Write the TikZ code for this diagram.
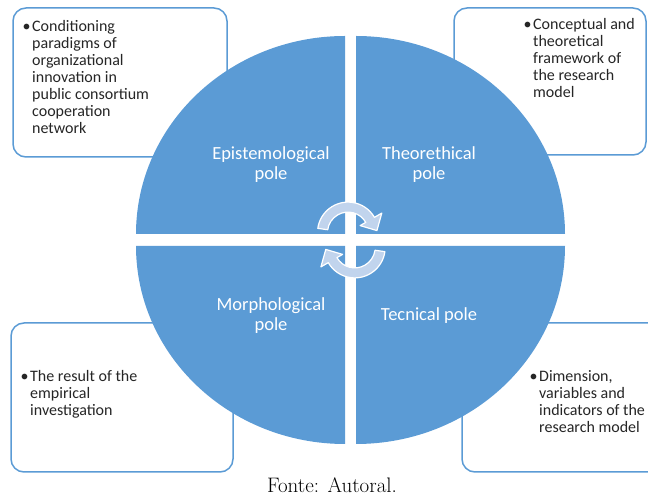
\documentclass[tikz,border=0pt]{standalone}
\usepackage{fontspec}
\newfontfamily\calib{Carlito}
\definecolor{poleblue}{RGB}{91,155,213}
\definecolor{arrowfill}{RGB}{193,212,237}

\begin{document}
\begin{tikzpicture}[x=1pt, y=1pt,
        polebox/.style={draw=poleblue, line width=1.5pt, fill=white, rounded corners=13pt, inner sep=0pt},
        bultext/.style={align=left, inner sep=0pt, anchor=base west, text=black!85, font=\calib\fontsize{16}{17}\selectfont},
        polelabel/.style={align=center, inner sep=0pt, text=white, font=\calib\fontsize{18.5}{20}\selectfont},
        cyclearrow/.style={fill=arrowfill, draw=white, line width=1.2pt, line join=round}]
        \useasboundingbox (0,0) rectangle (648,495);

        \node[polebox, minimum width=214pt, minimum height=149pt] (boxepi) at (120, 412.5) {};
        \node[polebox, minimum width=192pt, minimum height=147pt] (boxteo) at (550, 413.5) {};
        \node[polebox, minimum width=222pt, minimum height=149pt] (boxmor) at (122, 97.5) {};
        \node[polebox, minimum width=200pt, minimum height=149pt] (boxtec) at (562, 97.5) {};

        \fill[poleblue] (345, 261) -- (136, 261) arc[start angle=180, end angle=90, x radius=209, y radius=198] -- cycle;
        \fill[poleblue] (356, 261) -- (356, 459) arc[start angle=90, end angle=0, x radius=209, y radius=198] -- cycle;
        \fill[poleblue] (345, 249) -- (136, 249) arc[start angle=180, end angle=270, x radius=209, y radius=198] -- cycle;
        \fill[poleblue] (356, 249) -- (356, 51) arc[start angle=270, end angle=360, x radius=209, y radius=198] -- cycle;

        \begin{scope}[shift={(348, 262.4)}]
            \filldraw[cyclearrow] (172:30.5) arc[start angle=172, end angle=30, radius=30.5]
                -- (30:39) -- (4:29) -- (30:14) -- (30:20.5)
                arc[start angle=30, end angle=172, radius=20.5] -- cycle;
        \end{scope}
        \begin{scope}[shift={(354.7, 247.6)}, rotate=180]
            \filldraw[cyclearrow] (172:30.5) arc[start angle=172, end angle=30, radius=30.5]
                -- (30:39) -- (4:29) -- (30:14) -- (30:20.5)
                arc[start angle=30, end angle=172, radius=20.5] -- cycle;
        \end{scope}

        \node[polelabel] (epi) at (271, 330) {Epistemological\\pole};
        \node[polelabel] (teo) at (429, 330) {Theorethical\\pole};
        \node[polelabel] (mor) at (271, 179) {Morphological\\pole};
        \node[polelabel] (tec) at (429, 179) {Tecnical pole};

        \node[bultext] (txtepi) at (32, 361) {\llap{\textbullet\hspace{1.5pt}}Conditioning\\paradigms of\\organizational\\innovation in\\public consortium\\cooperation\\network};
        \node[bultext] (txtteo) at (533, 397) {\llap{\textbullet\hspace{1.5pt}}Conceptual and\\theoretical\\framework of\\the research\\model};
        \node[bultext] (txtmor) at (30, 79) {\llap{\textbullet\hspace{1.5pt}}The result of the\\empirical\\investigation};
        \node[bultext] (txttec) at (539, 62) {\llap{\textbullet\hspace{1.5pt}}Dimension,\\variables and\\indicators of the\\research model};

        \node[font=\fontsize{21}{22}\selectfont] (fonte) at (332, 10) {Fonte: Autoral.};
    \end{tikzpicture}
\end{document}
